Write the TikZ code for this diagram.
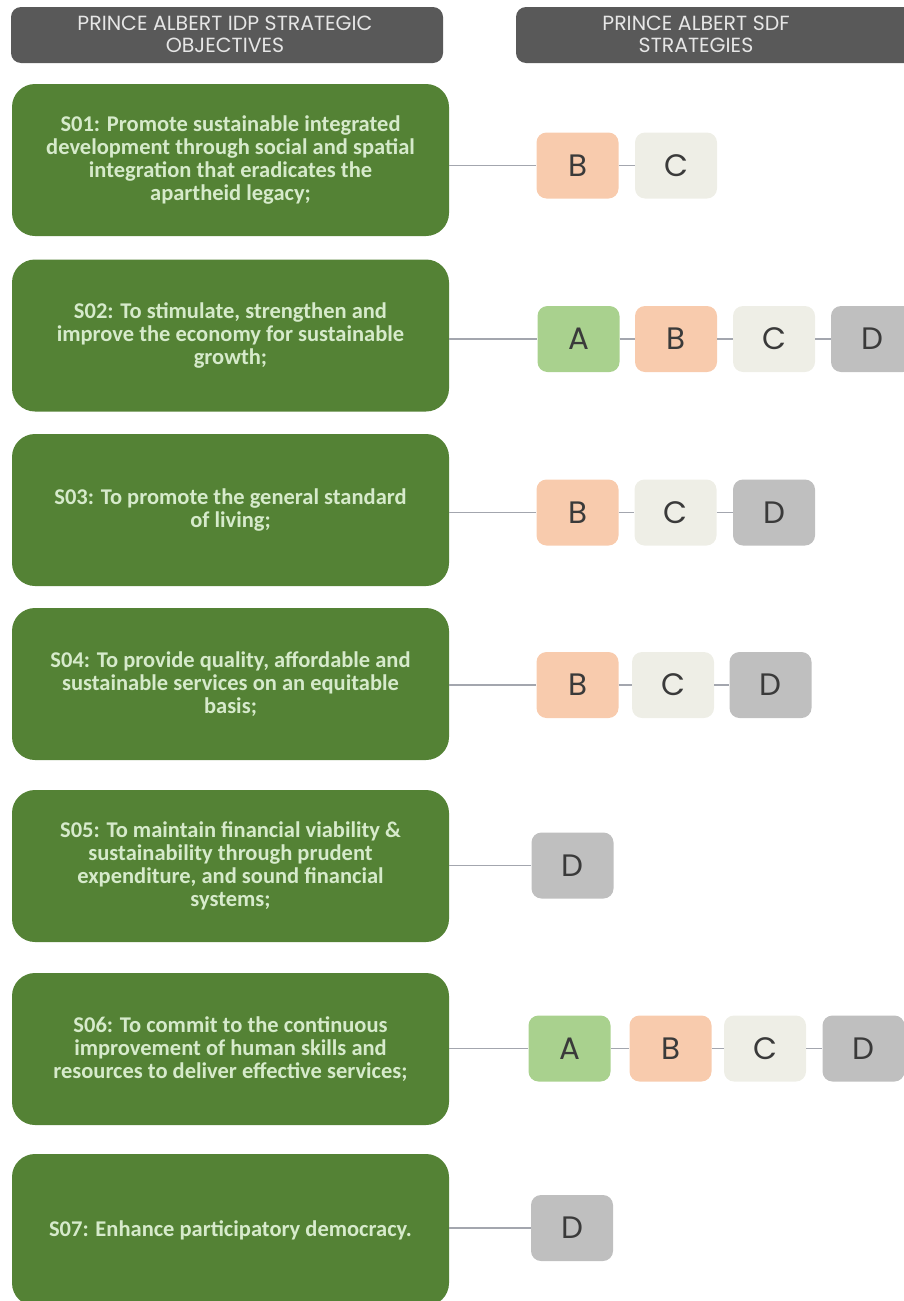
\documentclass[tikz,border=0pt]{standalone}
\usepackage{fontspec}
\newfontfamily\hdrfont{Poppins}
\newfontfamily\boxfont{Carlito}
\newfontfamily\letfont{Poppins}
\definecolor{hdrgray}{HTML}{595959}
\definecolor{hdrtext}{HTML}{E6E6E6}
\definecolor{objgreen}{HTML}{548235}
\definecolor{objtext}{HTML}{D6EACB}
\definecolor{colA}{HTML}{A9D18E}
\definecolor{colB}{HTML}{F8CBAD}
\definecolor{colC}{HTML}{EEEEE6}
\definecolor{colD}{HTML}{BFBFBF}
\definecolor{lettext}{HTML}{3A3A3A}
\definecolor{conncol}{HTML}{A3A6AE}
\begin{document}
\begin{tikzpicture}[x=1pt,y=-1pt,
  hdrbox/.style={fill=hdrgray, rounded corners=10pt, minimum height=56pt, inner sep=0pt},
  hdrtxt/.style={text=hdrtext, font=\hdrfont\fontsize{20.5}{22}\selectfont, align=center, inner sep=0pt},
  objbox/.style={fill=objgreen, rounded corners=23pt, minimum width=437pt, minimum height=152pt,
    text=objtext, font=\boxfont\bfseries\fontsize{22.5}{23}\selectfont, align=center, inner sep=0pt},
  sbox/.style={rounded corners=10pt, minimum width=82pt, minimum height=66pt, inner sep=0pt,
    text=lettext, font=\letfont\fontsize{31}{32}\selectfont},
  sA/.style={sbox, fill=colA},
  sB/.style={sbox, fill=colB},
  sC/.style={sbox, fill=colC},
  sD/.style={sbox, fill=colD},
  conn/.style={draw=conncol, line width=1.4pt}
]
\useasboundingbox (0,0) rectangle (904,1301);
\clip (0,0) rectangle (904,1301);

% headers
\node[hdrbox, minimum width=432pt] (h1) at (227,35) {};
\node[hdrtxt] (h1t) at (225,34) {PRINCE ALBERT IDP STRATEGIC\\OBJECTIVES};
\node[hdrbox, minimum width=420pt] (h2) at (726,35) {};
\node[hdrtxt] (h2t) at (696,34) {PRINCE ALBERT SDF\\STRATEGIES};

% objectives
\node[objbox] (g1) at (230.5,160) {S01: Promote sustainable integrated\\development through social and spatial\\integration that eradicates the\\apartheid legacy;};
\node[objbox] (g2) at (230.5,335.5) {S02: To stimulate, strengthen and\\improve the economy for sustainable\\growth;};
\node[objbox] (g3) at (230.5,510) {S03: To promote the general standard\\of living;};
\node[objbox] (g4) at (230.5,684) {S04: To provide quality, affordable and\\sustainable services on an equitable\\basis;};
\node[objbox] (g5) at (230.5,866) {S05: To maintain financial viability \&\\sustainability through prudent\\expenditure, and sound financial\\systems;};
\node[objbox] (g6) at (230.5,1049) {S06: To commit to the continuous\\improvement of human skills and\\resources to deliver effective services;};
\node[objbox] (g7) at (230.5,1230) {S07: Enhance participatory democracy.};

% row 1
\node[sB] (r1b) at (577.5,165.5) {B};
\node[sC] (r1c) at (676,165.5) {C};
% row 2
\node[sA] (r2a) at (578.5,339) {A};
\node[sB] (r2b) at (676,339) {B};
\node[sC] (r2c) at (774,339) {C};
\node[sD] (r2d) at (872,339) {D};
% row 3
\node[sB] (r3b) at (577.5,512.5) {B};
\node[sC] (r3c) at (675.5,512.5) {C};
\node[sD] (r3d) at (774,512.5) {D};
% row 4
\node[sB] (r4b) at (577.5,685) {B};
\node[sC] (r4c) at (673,685) {C};
\node[sD] (r4d) at (770.5,685) {D};
% row 5
\node[sD] (r5d) at (572.5,865.5) {D};
% row 6
\node[sA] (r6a) at (569.5,1048.5) {A};
\node[sB] (r6b) at (670.5,1048.5) {B};
\node[sC] (r6c) at (765,1048.5) {C};
\node[sD] (r6d) at (863.5,1048.5) {D};
% row 7
\node[sD] (r7d) at (572,1228) {D};

% connectors
\draw[conn] (g1.east |- r1b) -- (r1b.west);
\draw[conn] (r1b.east) -- (r1c.west);

\draw[conn] (g2.east |- r2a) -- (r2a.west);
\draw[conn] (r2a.east) -- (r2b.west);
\draw[conn] (r2b.east) -- (r2c.west);
\draw[conn] (r2c.east) -- (r2d.west);

\draw[conn] (g3.east |- r3b) -- (r3b.west);
\draw[conn] (r3b.east) -- (r3c.west);
\draw[conn] (r3c.east) -- (r3d.west);

\draw[conn] (g4.east |- r4b) -- (r4b.west);
\draw[conn] (r4b.east) -- (r4c.west);
\draw[conn] (r4c.east) -- (r4d.west);

\draw[conn] (g5.east |- r5d) -- (r5d.west);

\draw[conn] (g6.east |- r6a) -- (r6a.west);
\draw[conn] (r6a.east) -- (r6b.west);
\draw[conn] (r6b.east) -- (r6c.west);
\draw[conn] (r6c.east) -- (r6d.west);

\draw[conn] (g7.east |- r7d) -- (r7d.west);
\end{tikzpicture}
\end{document}
